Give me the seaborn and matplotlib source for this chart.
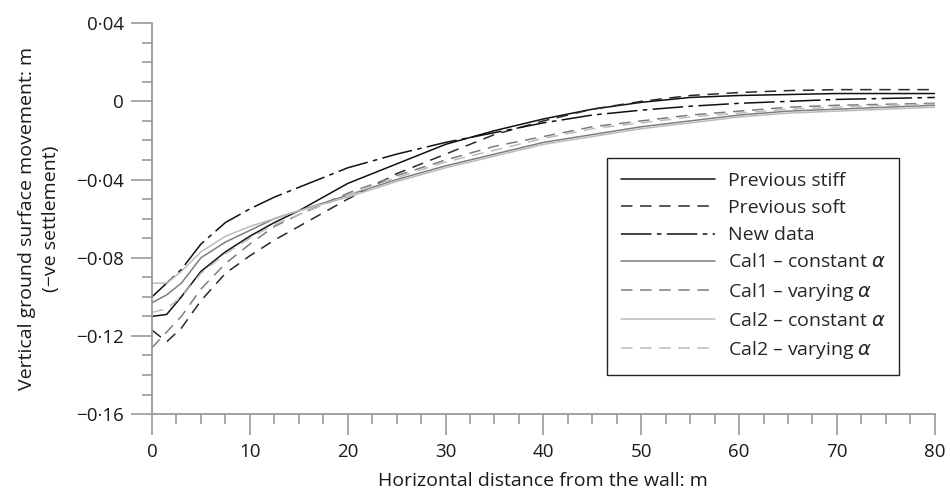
import numpy as np
import pandas as pd
import matplotlib
matplotlib.use("Agg")
import matplotlib.pyplot as plt
import seaborn as sns

# Horizontal distance from the wall (m)
distance = [0, 1.5, 3, 5, 7.5, 10, 12.5, 15, 20, 25, 30, 35, 40, 45, 50, 55, 60, 65, 70, 75, 80]

# Vertical ground surface movement (m), negative = settlement
previous_stiff = [-0.110, -0.109, -0.100, -0.087, -0.077, -0.069, -0.062, -0.056, -0.042, -0.032,
                  -0.022, -0.015, -0.009, -0.004, -0.0005, 0.002, 0.003, 0.0035, 0.004, 0.004, 0.004]
previous_soft = [-0.117, -0.123, -0.116, -0.102, -0.088, -0.079, -0.071, -0.064, -0.050, -0.037,
                 -0.027, -0.017, -0.010, -0.004, 0.000, 0.003, 0.0045, 0.0055, 0.006, 0.006, 0.006]
new_data = [-0.100, -0.093, -0.086, -0.073, -0.062, -0.055, -0.049, -0.044, -0.034, -0.027,
            -0.021, -0.016, -0.011, -0.007, -0.0045, -0.0025, -0.001, 0.000, 0.001, 0.0015, 0.002]
cal1_constant = [-0.103, -0.099, -0.093, -0.080, -0.072, -0.066, -0.060, -0.056, -0.048, -0.040,
                 -0.033, -0.027, -0.021, -0.017, -0.013, -0.010, -0.007, -0.005, -0.004, -0.003, -0.002]
cal1_varying = [-0.126, -0.118, -0.110, -0.096, -0.083, -0.073, -0.064, -0.058, -0.047, -0.038,
                -0.030, -0.023, -0.018, -0.013, -0.010, -0.007, -0.005, -0.003, -0.002, -0.0015, -0.001]
cal2_constant = [-0.093, -0.093, -0.087, -0.077, -0.069, -0.064, -0.060, -0.056, -0.049, -0.041,
                 -0.034, -0.028, -0.022, -0.018, -0.014, -0.011, -0.008, -0.006, -0.005, -0.004, -0.003]
cal2_varying = [-0.108, -0.106, -0.100, -0.088, -0.078, -0.070, -0.063, -0.058, -0.048, -0.039,
                -0.031, -0.025, -0.019, -0.014, -0.011, -0.008, -0.006, -0.004, -0.003, -0.002, -0.0015]

series_names = ["Previous stiff", "Previous soft", "New data",
                r"Cal1 – constant $\alpha$", r"Cal1 – varying $\alpha$",
                r"Cal2 – constant $\alpha$", r"Cal2 – varying $\alpha$"]
series_values = [previous_stiff, previous_soft, new_data,
                 cal1_constant, cal1_varying, cal2_constant, cal2_varying]

y_ticks = [0.04, 0, -0.04, -0.08, -0.12, -0.16]
y_tick_labels = ["0·04", "0", "−0·04", "−0·08", "−0·12", "−0·16"]
x_ticks = [0, 10, 20, 30, 40, 50, 60, 70, 80]

sns.set_theme(style="ticks")
plt.rcParams["font.family"] = ["Open Sans", "DejaVu Sans"]
plt.rcParams["mathtext.fontset"] = "dejavusans"

lw = 1.1
styles = {
    "Previous stiff": dict(color="#111111", linestyle="-"),
    "Previous soft": dict(color="#2a2a2a", linestyle=(0, (7.5, 5.0))),
    "New data": dict(color="#111111", linestyle=(0, (20, 3.5, 3.0, 3.5))),
    r"Cal1 – constant $\alpha$": dict(color="#7d7d7d", linestyle="-"),
    r"Cal1 – varying $\alpha$": dict(color="#7d7d7d", linestyle=(0, (7.5, 5.0))),
    r"Cal2 – constant $\alpha$": dict(color="#bcbcbc", linestyle="-"),
    r"Cal2 – varying $\alpha$": dict(color="#bcbcbc", linestyle=(0, (7.5, 5.0))),
}

fig = plt.figure(figsize=(9.5, 4.93), dpi=100)
ax = fig.add_axes([0.16, 0.160, 0.824, 0.793])

for name, vals in zip(series_names, series_values):
    df = pd.DataFrame({"x": distance, "y": vals})
    sns.lineplot(data=df, x="x", y="y", ax=ax, label=name, lw=lw, **styles[name])

ax.set_xlim(0, 80)
ax.set_ylim(-0.16, 0.04)

spine_col = "#9a9a9a"
for side in ["top", "right"]:
    ax.spines[side].set_visible(False)
for side in ["left", "bottom"]:
    ax.spines[side].set_color(spine_col)
    ax.spines[side].set_linewidth(1.3)

ax.set_xticks(x_ticks)
ax.set_xticklabels([str(t) for t in x_ticks])
ax.set_xticks(np.arange(0, 80.1, 2.5), minor=True)
ax.set_yticks(y_ticks)
ax.set_yticklabels(y_tick_labels)
ax.set_yticks(np.arange(-0.16, 0.0401, 0.01), minor=True)

ax.tick_params(axis="both", which="major", length=15, width=1.2, color=spine_col,
               labelsize=13.5, labelcolor="#1a1a1a")
ax.tick_params(axis="both", which="minor", length=7, width=1.2, color=spine_col)
ax.tick_params(axis="x", which="major", pad=6)
ax.tick_params(axis="y", which="major", pad=5)

text_col = "#1a1a1a"
ax.set_xlabel("Horizontal distance from the wall: m", fontsize=14, color=text_col)
ax.xaxis.set_label_coords(0.5, -0.148)
ax.set_ylabel("Vertical ground surface movement: m\n(−ve settlement)", fontsize=14,
              color=text_col, linespacing=1.45)
ax.yaxis.set_label_coords(-0.117, 0.5)

leg = ax.legend(loc="upper left", bbox_to_anchor=(0.581, 0.655), borderaxespad=0,
                fontsize=14, handlelength=4.85, handletextpad=0.65, labelspacing=0.47,
                frameon=True, fancybox=False, edgecolor="#222222", framealpha=1,
                borderpad=0.72)
leg.get_frame().set_linewidth(1.0)

fig.savefig("out.png", dpi=100)
